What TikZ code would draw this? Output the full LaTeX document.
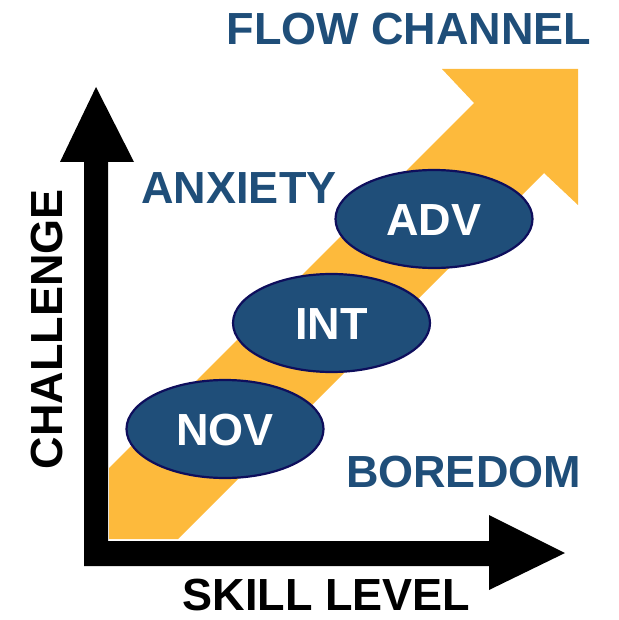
\documentclass[tikz,border=0pt]{standalone}
\usepackage{fontspec}
\setmainfont{Liberation Sans}
\usetikzlibrary{shapes.geometric}

\definecolor{flowgold}{RGB}{253,186,60}
\definecolor{labelblue}{RGB}{31,78,121}
\definecolor{levelrim}{RGB}{14,14,92}

\tikzset{
  bigfont/.style={font=\fontsize{45}{54}\selectfont\bfseries},
  zonelabel/.style={bigfont, text=labelblue, inner sep=0pt, anchor=base,
    text height=32pt, text depth=0pt},
  axislabel/.style={bigfont, text=black, inner sep=0pt, anchor=base,
    text height=32pt, text depth=0pt},
  level/.style={ellipse, draw=levelrim, line width=2.2pt, fill=labelblue,
    text=white, bigfont, inner sep=0pt, minimum width=197pt,
    minimum height=98pt, text height=32pt, text depth=0pt},
  band/.style={fill=flowgold},
  axisbar/.style={fill=black}
}

\begin{document}
\begin{tikzpicture}[x=1pt, y=-1pt]
  \useasboundingbox (0,0) rectangle (618,620);

  % rising channel with its arrow head
  \coordinate (b1) at (109,539);
  \coordinate (b2) at (109,468);
  \coordinate (b3) at (474,103);
  \coordinate (b4) at (442,69);
  \coordinate (b5) at (578,69);
  \coordinate (b6) at (578,205);
  \coordinate (b7) at (544,173);
  \coordinate (b8) at (178,539);
  \fill[band] (b1) -- (b2) -- (b3) -- (b4) -- (b5) -- (b6) -- (b7) -- (b8) -- cycle;

  % the two axes, drawn as one solid outline
  \coordinate (origin) at (84,566);
  \coordinate (ytip) at (96,87);
  \coordinate (xtip) at (565,553);
  \fill[axisbar] (origin) -- (84,162) -- (60,162) -- (ytip) -- (134,162)
    -- (108,162) -- (108,541) -- (489,541) -- (489,515) -- (xtip)
    -- (489,590) -- (489,566) -- cycle;

  % skill levels
  \node[level] (nov) at (225,429) {NOV};
  \node[level] (int) at (331.5,323) {INT};
  \node[level] (adv) at (434,219) {ADV};

  % zone labels
  \node[zonelabel] (flow) at (409,45) {FLOW CHANNEL};
  \node[zonelabel] (anxiety) at (239,204) {ANXIETY};
  \node[zonelabel] (boredom) at (463.5,487) {BOREDOM};

  % axis labels
  \node[axislabel] (skill) at (326.5,610) {SKILL LEVEL};
  \node[axislabel, rotate=90] (challenge) at (62,329) {CHALLENGE};
\end{tikzpicture}
\end{document}
